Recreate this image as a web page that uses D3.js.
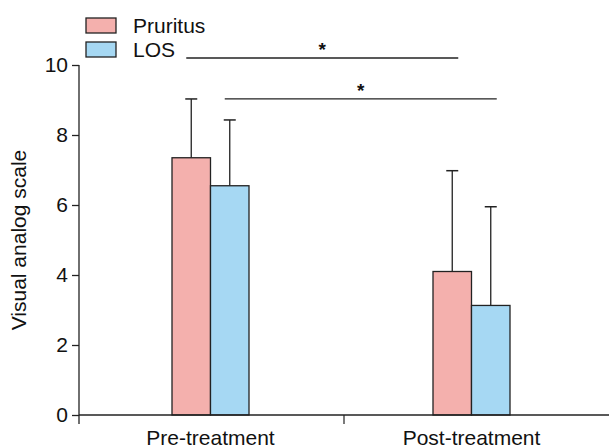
<!DOCTYPE html>
<html>
<head>
<meta charset="utf-8">
<script src="https://cdn.jsdelivr.net/npm/d3@7"></script>
<style>
  body { margin: 0; background: #fff; }
  text { font-family: "Liberation Sans", Arial, sans-serif; fill: #111; }
</style>
</head>
<body>
<script>
// chart data
var categories = ["Pre-treatment", "Post-treatment"];
var seriesNames = ["Pruritus", "LOS"];
var pruritusMean = [7.35, 4.10];
var pruritusSD = [1.68, 2.88];
var losMean = [6.55, 3.13];
var losSD = [1.88, 2.82];
var yTicks = [0, 2, 4, 6, 8, 10];
var colors = ["#f4b0ad", "#a6d8f3"];
// significance lines between matching series of the two groups
var sigPairs = [
  {from: [0, 0], to: [1, 0], level: 10.2, label: "*"},
  {from: [0, 1], to: [1, 1], level: 9.03, label: "*"}
];

var width = 609, height = 448;
var margin = {top: 65, right: 0, bottom: 33, left: 79};
var innerW = width - margin.left - margin.right,
    innerH = height - margin.top - margin.bottom;

var svg = d3.select("body").append("svg")
    .attr("width", width)
    .attr("height", height);

var g = svg.append("g")
    .attr("transform", "translate(" + margin.left + "," + margin.top + ")");

var x = d3.scaleBand().domain(categories).range([1, 523]);
var xs = d3.scaleBand().domain(seriesNames).range([0, 77]);
var y = d3.scaleLinear().domain([0, 10]).range([350, 0]);

var data = [];
categories.forEach(function(c, i) {
  data.push({cat: c, series: "Pruritus", mean: pruritusMean[i], sd: pruritusSD[i], color: colors[0]});
  data.push({cat: c, series: "LOS", mean: losMean[i], sd: losSD[i], color: colors[1]});
});

function barX(d) { return x(d.cat) + x.bandwidth() / 2 - 38.5 + xs(d.series); }

// error bars (drawn first, bars cover the lower half)
var eb = g.selectAll(".err").data(data).enter().append("g");
eb.append("line")
    .attr("x1", function(d) { return barX(d) + xs.bandwidth() / 2; })
    .attr("x2", function(d) { return barX(d) + xs.bandwidth() / 2; })
    .attr("y1", function(d) { return y(d.mean); })
    .attr("y2", function(d) { return y(d.mean + d.sd); })
    .attr("stroke", "#222").attr("stroke-width", 1.3);
eb.append("line")
    .attr("x1", function(d) { return barX(d) + xs.bandwidth() / 2 - 6; })
    .attr("x2", function(d) { return barX(d) + xs.bandwidth() / 2 + 6; })
    .attr("y1", function(d) { return y(d.mean + d.sd); })
    .attr("y2", function(d) { return y(d.mean + d.sd); })
    .attr("stroke", "#222").attr("stroke-width", 1.5);

// bars
g.selectAll(".bar").data(data).enter().append("rect")
    .attr("x", barX)
    .attr("width", xs.bandwidth())
    .attr("y", function(d) { return y(d.mean); })
    .attr("height", function(d) { return y(0) - y(d.mean); })
    .attr("fill", function(d) { return d.color; })
    .attr("stroke", "#222").attr("stroke-width", 1.3);

// axes
var yAxis = d3.axisLeft(y).tickValues(yTicks).tickSize(7).tickPadding(4);
var ya = g.append("g").call(yAxis);
ya.select(".domain").attr("d", "M0,0V" + (y(0) + 9));
ya.selectAll("text").style("font-size", "21px");
ya.selectAll("line, path").attr("stroke", "#222").attr("stroke-width", 1.3);

var xa = g.append("g").attr("transform", "translate(0," + y(0) + ")");
xa.append("line").attr("x1", 0).attr("x2", innerW).attr("stroke", "#222").attr("stroke-width", 1.3);
xa.append("line")
    .attr("x1", x(categories[1]) + 3).attr("x2", x(categories[1]) + 3)
    .attr("y1", 0).attr("y2", 9)
    .attr("stroke", "#222").attr("stroke-width", 1.2);
xa.selectAll(".cat").data(categories).enter().append("text")
    .attr("x", function(d) { return x(d) + x.bandwidth() / 2; })
    .attr("y", 30)
    .attr("text-anchor", "middle")
    .style("font-size", "21px")
    .text(function(d) { return d; });

// y label
svg.append("text")
    .attr("transform", "translate(26," + (margin.top + 175) + ") rotate(-90)")
    .attr("text-anchor", "middle")
    .style("font-size", "21px")
    .text("Visual analog scale");

// significance lines
sigPairs.forEach(function(s) {
  var d1 = data[s.from[0] * 2 + s.from[1]], d2 = data[s.to[0] * 2 + s.to[1]];
  var x1 = barX(d1) + xs.bandwidth() / 2 - 5, x2 = barX(d2) + xs.bandwidth() / 2 + 6;
  g.append("line")
      .attr("x1", x1).attr("x2", x2)
      .attr("y1", y(s.level)).attr("y2", y(s.level))
      .attr("stroke", "#222").attr("stroke-width", 1.3);
  g.append("text")
      .attr("x", (x1 + x2) / 2).attr("y", y(s.level) - 2)
      .attr("text-anchor", "middle")
      .style("font-size", "19px").style("font-weight", "bold")
      .text(s.label);
});

// legend
var lg = svg.append("g").attr("transform", "translate(86,18)");
seriesNames.forEach(function(n, i) {
  lg.append("rect").attr("x", 0).attr("y", i * 24).attr("width", 30).attr("height", 15)
      .attr("fill", colors[i]).attr("stroke", "#222").attr("stroke-width", 1.3);
  lg.append("text").attr("x", 47).attr("y", i * 24 + 15)
      .style("font-size", "21px").text(n);
});
</script>
</body>
</html>
